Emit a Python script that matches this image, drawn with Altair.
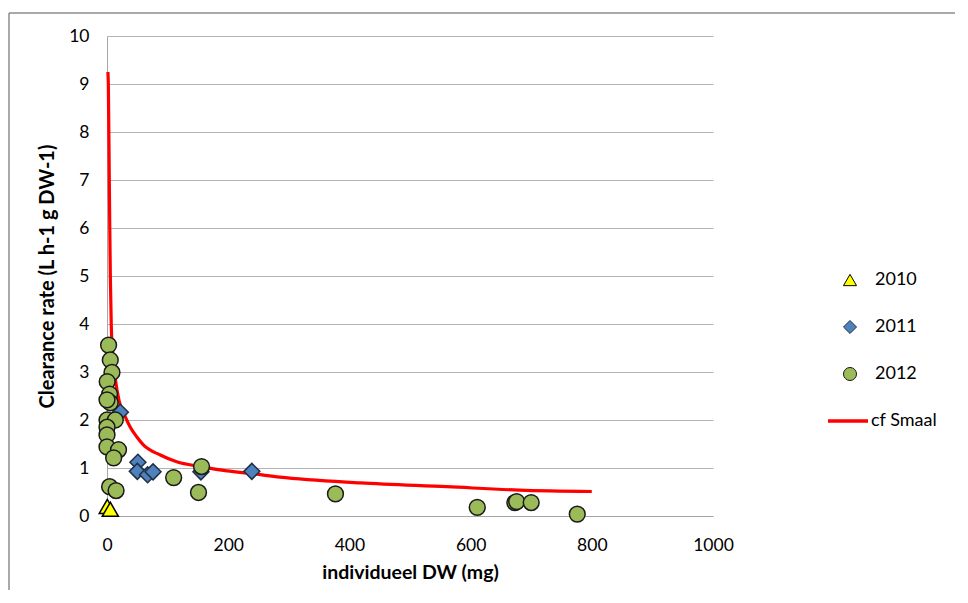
import altair as alt
import pandas as pd

# ---- data ----
x2010 = [0.5, 5.5]
y2010 = [0.20, 0.14]

x2011 = [22, 51, 50, 67, 76, 155, 239]
y2011 = [2.16, 1.12, 0.93, 0.86, 0.92, 0.92, 0.93]

x2012 = [2.6, 5.4, 8.2, 0.3, 4.3, 5.4, 0, 0, 13.7, 0, 0, 0, 19, 11, 4.3, 15,
         110, 156, 151, 377, 611, 673, 676, 700, 776]
y2012 = [3.56, 3.25, 2.99, 2.80, 2.54, 2.36, 2.42, 2.00, 2.00, 1.85, 1.69, 1.44,
         1.38, 1.21, 0.61, 0.53, 0.80, 1.03, 0.49, 0.46, 0.18, 0.28, 0.30, 0.28, 0.04]

curve_x = [1.5, 2.2, 3.8, 4.6, 5.5, 7, 9.3, 14, 20, 30, 38, 49, 60, 88, 115,
           154, 198, 241, 285, 418, 561, 680, 800]
curve_y = [9.25, 9.0, 7.0, 6.0, 5.0, 4.0, 3.4, 2.83, 2.4, 2.07, 1.86, 1.65, 1.48,
           1.27, 1.13, 1.03, 0.94, 0.88, 0.81, 0.69, 0.61, 0.54, 0.51]

years = ["2010", "2011", "2012"]
fills = ["#FFFF00", "#4F81BD", "#9BBB59"]
strokes = ["#000000", "#1F2F45", "#1A1A1A"]
shapes = ["triangle-up", "diamond", "circle"]
sizes = [260, 250, 190]
curve_name = "cf Smaal"

x_ticks = [0, 200, 400, 600, 800, 1000]

FONT = "Lato"

rows = []
for yr, xs, ys in zip(years, [x2010, x2011, x2012], [y2010, y2011, y2012]):
    for a, b in zip(xs, ys):
        rows.append({"dw": a, "cr": b, "year": yr})
pts = pd.DataFrame(rows)
pts["ord"] = range(len(pts))

curve = pd.DataFrame({"dw": curve_x, "cr": curve_y, "series": curve_name})

xscale = alt.Scale(domain=[0, 1000], nice=False, zero=True)
yscale = alt.Scale(domain=[0, 10], nice=False)

xaxis = alt.Axis(values=x_ticks, format="d", labelFlush=False, grid=False, ticks=False,
                 tickSize=0, domainColor="#A6A6A6",
                 labelFont=FONT, labelFontSize=17.5, labelColor="#000000", labelPadding=20,
                 title="individueel DW (mg)", titleFont=FONT, titleFontSize=19.5,
                 titleFontWeight="bold", titleColor="#000000", titlePadding=10)
yaxis = alt.Axis(values=list(range(0, 11)), grid=True, gridColor="#B3B3B3", ticks=False,
                 tickSize=0, domainColor="#A6A6A6", labelFont=FONT, labelFontSize=17.5,
                 labelColor="#000000", labelPadding=18,
                 title="Clearance rate (L h-1 g DW-1)", titleFont=FONT, titleFontSize=20,
                 titleFontWeight="bold", titleColor="#000000", titlePadding=11)

line = alt.Chart(curve).mark_line(strokeWidth=3.2, interpolate="monotone").encode(
    x=alt.X("dw:Q", scale=xscale, axis=xaxis),
    y=alt.Y("cr:Q", scale=yscale, axis=yaxis),
    stroke=alt.Stroke("series:N", scale=alt.Scale(domain=[curve_name], range=["#FF0000"]),
                      legend=alt.Legend(title=None, orient="none", legendX=719, legendY=363,
                                        symbolType="stroke", symbolSize=1600,
                                        symbolStrokeWidth=3.5, labelOffset=1,
                                        labelFont=FONT, labelFontSize=18,
                                        labelColor="#000000", padding=0)),
)

leg = alt.Legend(title=None, orient="none", legendX=734, legendY=235, labelFont=FONT,
                 labelFontSize=18, labelColor="#000000", symbolSize=170, rowPadding=29,
                 labelOffset=16, symbolStrokeWidth=1, padding=0)

points = alt.Chart(pts).mark_point(filled=False, strokeWidth=1.5,
                                   opacity=1, fillOpacity=1).encode(
    x=alt.X("dw:Q", scale=xscale),
    y=alt.Y("cr:Q", scale=yscale),
    fill=alt.Fill("year:N", scale=alt.Scale(domain=years, range=fills), legend=leg),
    shape=alt.Shape("year:N", scale=alt.Scale(domain=years, range=shapes), legend=leg),
    stroke=alt.Stroke("year:N", scale=alt.Scale(domain=years, range=strokes), legend=leg),
    size=alt.Size("year:N", scale=alt.Scale(domain=years, range=sizes), legend=None),
    order=alt.Order("ord:Q"),
)

# chart-area border (decoration, left and top edges)
one = alt.Data(values=[{"k": 1}])
border_top = alt.Chart(one).mark_rule(color="#8C8C8C", strokeWidth=1.5).encode(
    x=alt.value(-98), x2=alt.value(848), y=alt.value(-23))
border_left = alt.Chart(one).mark_rule(color="#8C8C8C", strokeWidth=1.5).encode(
    x=alt.value(-98), y=alt.value(-23), y2=alt.value(554))

chart = alt.layer(line, points, border_top, border_left).resolve_scale(
    fill="independent", shape="independent", stroke="independent"
).properties(
    width=606, height=480,
    padding={"left": 0, "top": 4, "right": 0, "bottom": 0},
    background="#FFFFFF",
).configure_view(stroke=None)

chart.save("out.html", embed_options={"renderer": "svg", "actions": False})
